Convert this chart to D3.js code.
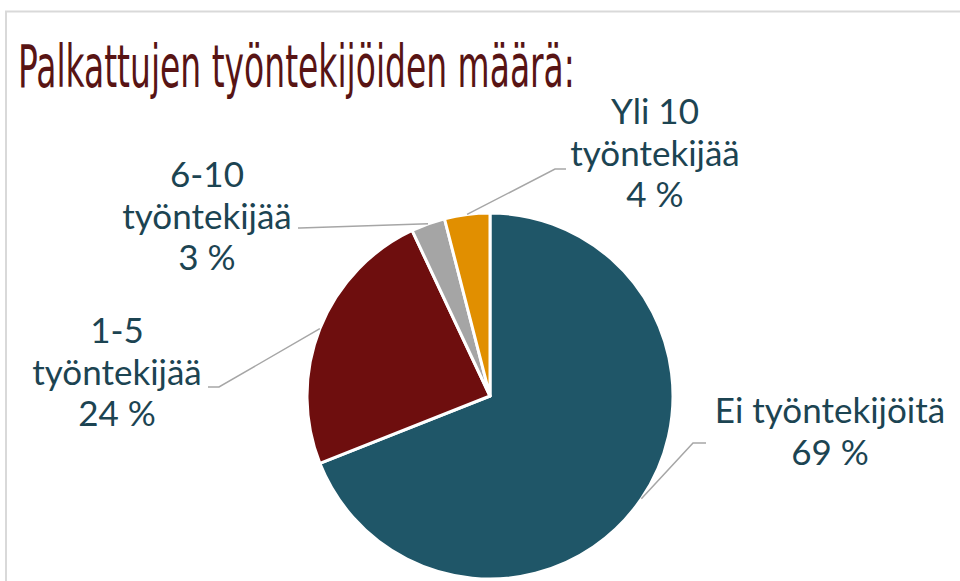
<!DOCTYPE html>
<html>
<head>
<meta charset="utf-8">
<script src="https://cdnjs.cloudflare.com/ajax/libs/d3/7.8.5/d3.min.js"></script>
<style>
  body { margin: 0; background: #fff; }
  svg { display: block; }
</style>
</head>
<body>
<div id="chart"></div>
<script>
// data
var categories = ["Ei työntekijöitä", "1-5 työntekijää", "6-10 työntekijää", "Yli 10 työntekijää"];
var values = [69, 24, 3, 4];
var labelLines = [["Ei työntekijöitä", "69 %"], ["1-5", "työntekijää", "24 %"], ["6-10", "työntekijää", "3 %"], ["Yli 10", "työntekijää", "4 %"]];
var colors = ["#1f5668", "#6e0e0e", "#a5a5a5", "#e18f00"];
var title = "Palkattujen työntekijöiden määrä:";

// label layout (text centre, first baseline, leader elbow)
var labelPos = [
  {x: 830, y: 423, elbow: [693, 443], end: [706, 443]},
  {x: 117, y: 343, elbow: [219, 387], end: [208, 387]},
  {x: 207, y: 187, elbow: [300, 228], end: [298, 228]},
  {x: 655, y: 124, elbow: [555, 169], end: [566, 169]}
];

var W = 960, H = 581;
var cx = 490, cy = 396, r = 183;

var svg = d3.select("#chart").append("svg")
    .attr("width", W)
    .attr("height", H);

// frame
svg.append("path")
    .attr("d", "M6,581 L6,11.5 L960,11.5")
    .attr("fill", "none")
    .attr("stroke", "#d9d9d9")
    .attr("stroke-width", 2);

// title: squeeze horizontally so it spans ~557px
var titleText = svg.append("text")
    .attr("x", 0)
    .attr("y", 0)
    .style("font-family", "'Liberation Sans Narrow', 'DejaVu Sans Condensed', sans-serif")
    .style("font-size", "58px")
    .style("fill", "#581414")
    .text(title);
var tw = titleText.node().getComputedTextLength();
titleText.attr("transform", "translate(18,87) scale(" + (557 / tw) + ",1)");

var pie = d3.pie().sort(null).value(function(d) { return d; });
var arcs = pie(values);
var arc = d3.arc().innerRadius(0).outerRadius(r);

var g = svg.append("g").attr("transform", "translate(" + cx + "," + cy + ")");

g.selectAll("path.slice")
    .data(arcs)
    .enter().append("path")
    .attr("class", "slice")
    .attr("d", arc)
    .attr("fill", function(d, i) { return colors[i]; })
    .attr("stroke", "#fff")
    .attr("stroke-width", 3)
    .attr("stroke-linejoin", "round");

// leader lines from slice edge
svg.selectAll("polyline.leader")
    .data(arcs)
    .enter().append("polyline")
    .attr("class", "leader")
    .attr("points", function(d, i) {
      var a = (d.startAngle + d.endAngle) / 2;
      var p0 = [cx + Math.sin(a) * r, cy - Math.cos(a) * r];
      var p = labelPos[i];
      return [p0, p.elbow, p.end].map(function(q) { return q.join(","); }).join(" ");
    })
    .attr("fill", "none")
    .attr("stroke", "#a6a6a6")
    .attr("stroke-width", 1.5);

// one text per label line
labelLines.forEach(function(lines, i) {
  svg.selectAll("text.lbl" + i)
    .data(lines)
    .enter().append("text")
    .attr("class", "lbl" + i)
    .attr("x", labelPos[i].x)
    .attr("y", function(s, j) { return labelPos[i].y + j * 41.5; })
    .attr("text-anchor", "middle")
    .style("font-family", "Lato, 'Noto Sans', sans-serif")
    .style("font-size", "35px")
    .style("fill", "#1c4452")
    .text(function(s) { return s; });
});
</script>
</body>
</html>
